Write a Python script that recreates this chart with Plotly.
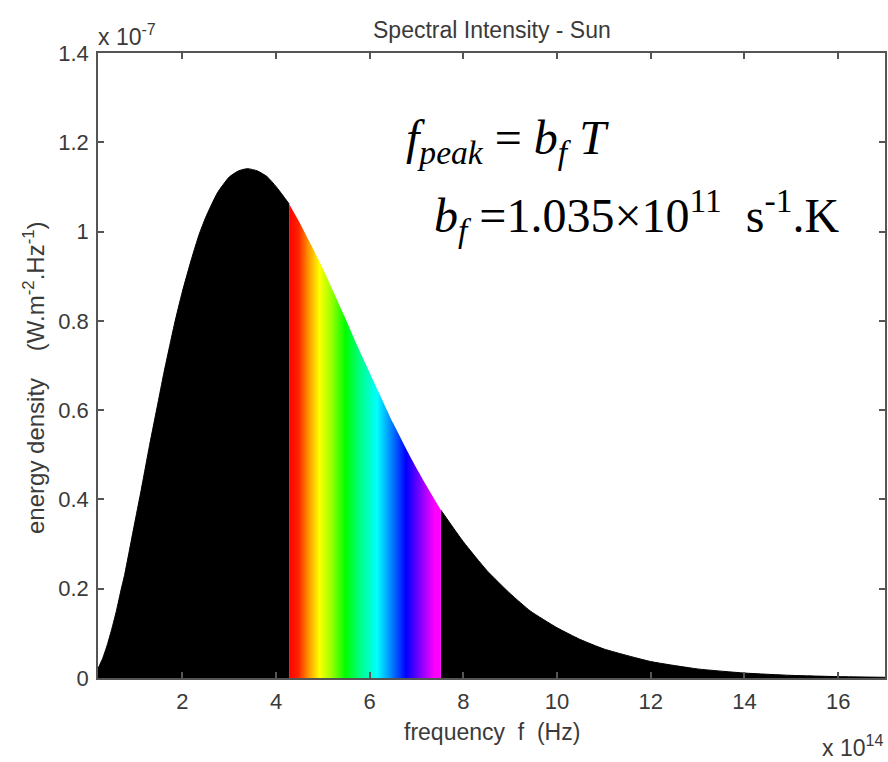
import plotly.graph_objects as go

# frequency in units of 1e14 Hz, energy density in units of 1e-7 W.m^-2.Hz^-1
freq = [0.2, 0.3, 0.4, 0.5, 0.59, 0.7, 0.77, 0.88, 1.0, 1.12, 1.3, 1.48, 1.6, 1.83,
        2.0, 2.2, 2.36, 2.5, 2.75, 3.0, 3.2, 3.39, 3.6, 3.81, 4.0, 4.28, 4.5, 4.76,
        5.0, 5.47, 5.75, 6.18, 6.5, 6.88, 7.2, 7.52, 8.0, 8.5, 9.0, 9.43, 10.0, 10.5,
        11.0, 12.0, 13.0, 14.0, 15.0, 16.0, 17.0]
energy = [0.021, 0.044, 0.075, 0.112, 0.149, 0.201, 0.232, 0.291, 0.356, 0.42, 0.521,
          0.616, 0.68, 0.792, 0.865, 0.94, 0.994, 1.032, 1.087, 1.122, 1.136, 1.141,
          1.136, 1.123, 1.101, 1.062, 1.021, 0.968, 0.917, 0.808, 0.741, 0.643, 0.571,
          0.493, 0.433, 0.376, 0.305, 0.241, 0.189, 0.150, 0.1125, 0.086, 0.065,
          0.0369, 0.0203, 0.0111, 0.0059, 0.0031, 0.0016]
VIS_START = 4.28
VIS_END = 7.52

x_ticks = [2, 4, 6, 8, 10, 12, 14, 16]
y_ticks = [0, 0.2, 0.4, 0.6, 0.8, 1.0, 1.2, 1.4]
y_ticklabels = ["0", "0.2", "0.4", "0.6", "0.8", "1", "1.2", "1.4"]

rainbow = [[0.0, "#ff0000"], [0.06, "#ff2200"], [0.13, "#ff9900"], [0.2, "#ffff00"],
           [0.28, "#99ff00"], [0.37, "#00ff00"], [0.47, "#00ff88"], [0.58, "#00ffff"],
           [0.67, "#0088ff"], [0.77, "#0000ff"], [0.87, "#8800ff"], [0.96, "#ff00ff"],
           [1.0, "#ff00ff"]]

ir = [(f, e) for f, e in zip(freq, energy) if f <= VIS_START]
vis = [(f, e) for f, e in zip(freq, energy) if VIS_START <= f <= VIS_END]
uv = [(f, e) for f, e in zip(freq, energy) if f >= VIS_END]

fig = go.Figure()
for seg in (ir, uv):
    fig.add_trace(go.Scatter(
        x=[p[0] for p in seg], y=[p[1] for p in seg], mode="lines",
        line=dict(color="black", width=1, shape="spline", smoothing=0.5),
        fill="tozeroy", fillcolor="black", hoverinfo="skip", showlegend=False))
fig.add_trace(go.Scatter(
    x=[p[0] for p in vis], y=[p[1] for p in vis], mode="lines",
    line=dict(color="rgba(0,0,0,0)", width=0, shape="spline", smoothing=0.5),
    fill="tozeroy", fillgradient=dict(type="horizontal", colorscale=rainbow),
    hoverinfo="skip", showlegend=False))

tick_font = dict(family="Liberation Sans, Arial", size=22, color="#3a3a3a")
axis_common = dict(showline=True, linecolor="#555", linewidth=1.5, mirror="ticks",
                   ticks="inside", ticklen=6, tickcolor="#555", tickwidth=1.5,
                   showgrid=False, zeroline=False, tickfont=tick_font)

fig.update_xaxes(range=[0.2, 17], tickvals=x_ticks, ticktext=[str(t) for t in x_ticks],
                 ticklabelstandoff=3, **axis_common)
fig.update_yaxes(range=[0, 1.4], tickvals=y_ticks, ticktext=y_ticklabels,
                 ticklabelstandoff=3, **axis_common)

lab_font = dict(family="Liberation Sans, Arial", size=23, color="#3a3a3a")
ylab_font = dict(family="Liberation Sans, Arial", size=24, color="#3a3a3a")
eq_font = dict(family="Liberation Serif, Times New Roman", size=48, color="black")
fig.update_layout(
    width=888, height=762,
    margin=dict(l=98, r=1, t=53, b=84),
    plot_bgcolor="white", paper_bgcolor="white",
    annotations=[
        dict(text="Spectral Intensity - Sun", xref="paper", yref="paper",
             x=0.5, y=1.0, yshift=23, xanchor="center", yanchor="middle",
             showarrow=False, font=lab_font),
        dict(text="frequency\u00a0 f\u00a0 (Hz)", xref="paper", yref="paper",
             x=0.5, y=0, yshift=-54, xanchor="center", yanchor="middle",
             showarrow=False, font=lab_font),
        dict(text="energy density\u00a0\u00a0\u00a0 (W.m<sup>-2</sup>.Hz<sup>-1</sup>)",
             xref="paper", yref="paper", x=0, xshift=-64, y=0.48,
             xanchor="center", yanchor="middle", textangle=-90,
             showarrow=False, font=ylab_font),
        dict(text="x 10<sup>-7</sup>", xref="paper", yref="paper",
             x=0, y=1, xshift=-2, yshift=18, xanchor="left", yanchor="middle",
             showarrow=False, font=lab_font),
        dict(text="x 10<sup>14</sup>", xref="paper", yref="paper",
             x=1, y=0, yshift=-68, xanchor="right", yanchor="middle",
             showarrow=False, font=lab_font),
        dict(text="<i>f</i><sub><i>peak</i></sub> = <i>b</i><sub><i>f</i></sub> <i>T</i>",
             xref="paper", yref="paper", x=0.389, y=0.86,
             xanchor="left", yanchor="middle", showarrow=False, font=eq_font),
        dict(text="<i>b</i><sub><i>f</i></sub> =1.035\u00d710<sup>11</sup>\u00a0 s<sup>-1</sup>.K",
             xref="paper", yref="paper", x=0.4246, y=0.74,
             xanchor="left", yanchor="middle", showarrow=False, font=eq_font),
    ],
)

fig.write_html("out.html")
